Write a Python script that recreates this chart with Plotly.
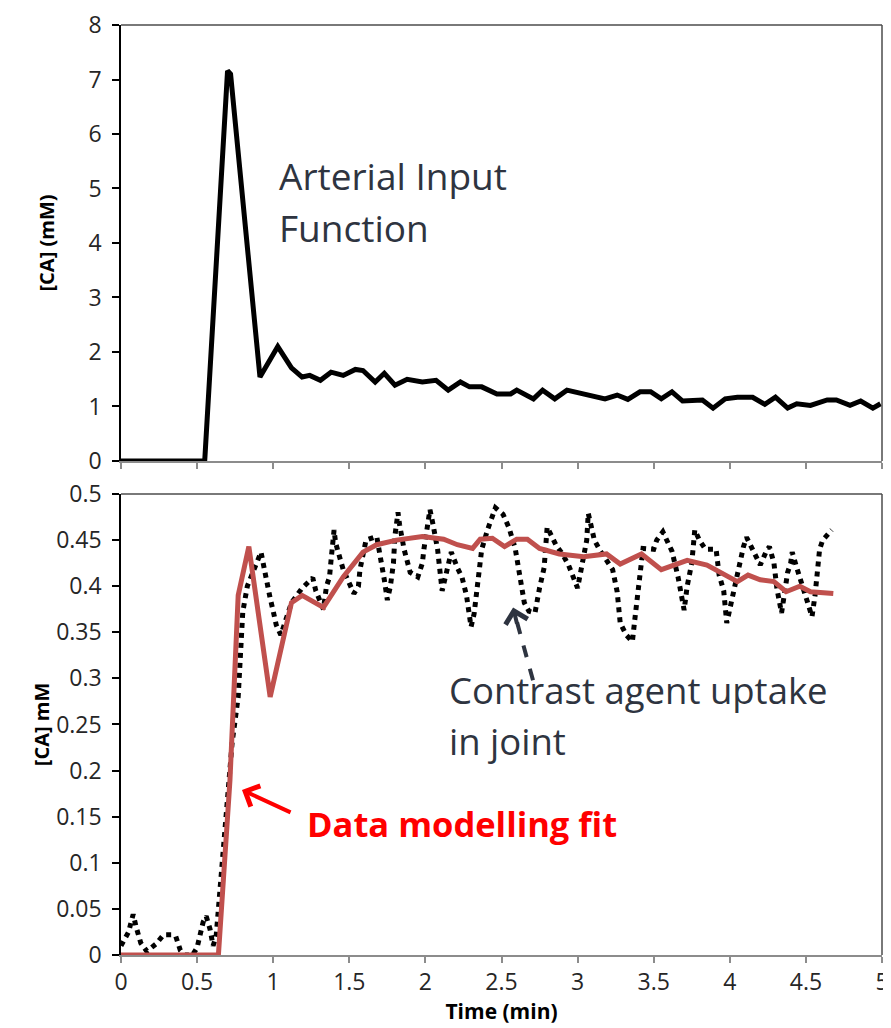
import plotly.graph_objects as go

# ---- data ----
aif_t = [0.00, 0.55, 0.70, 0.72, 0.913, 1.03, 1.12, 1.19, 1.24, 1.31, 1.38, 1.46, 1.54, 1.59,
         1.67, 1.73, 1.80, 1.88, 1.98, 2.07, 2.15, 2.23, 2.29, 2.37, 2.47, 2.56, 2.60, 2.71,
         2.77, 2.85, 2.93, 3.08, 3.18, 3.26, 3.33, 3.41, 3.48, 3.55, 3.62, 3.69, 3.82, 3.89,
         3.97, 4.05, 4.15, 4.23, 4.30, 4.38, 4.44, 4.53, 4.64, 4.70, 4.79, 4.86, 4.94, 4.99]
aif_c = [0.00, 0.00, 7.16, 7.10, 1.54, 2.10, 1.71, 1.54, 1.57, 1.48, 1.63, 1.57, 1.68, 1.66,
         1.45, 1.61, 1.39, 1.50, 1.45, 1.48, 1.30, 1.45, 1.36, 1.36, 1.23, 1.23, 1.30, 1.14,
         1.30, 1.14, 1.30, 1.21, 1.14, 1.21, 1.13, 1.27, 1.27, 1.14, 1.27, 1.10, 1.12, 0.97,
         1.14, 1.17, 1.17, 1.04, 1.17, 0.97, 1.05, 1.02, 1.12, 1.12, 1.02, 1.10, 0.97, 1.05]

joint_t = [0.00, 0.03, 0.05, 0.07, 0.08, 0.10, 0.13, 0.17, 0.20, 0.23, 0.28, 0.33, 0.36, 0.39,
           0.42, 0.47, 0.50, 0.52, 0.54, 0.56, 0.585, 0.605, 0.625, 0.64, 0.66, 0.68, 0.70,
           0.73, 0.77, 0.80, 0.83, 0.92, 0.94, 0.96, 0.98, 1.00, 1.02, 1.05, 1.07, 1.12, 1.19,
           1.26, 1.28, 1.33, 1.35, 1.37, 1.38, 1.40, 1.41, 1.46, 1.53, 1.56, 1.57, 1.61, 1.68,
           1.70, 1.73, 1.75, 1.77, 1.79, 1.80, 1.82, 1.83, 1.86, 1.90, 1.95, 1.98, 1.99, 2.02,
           2.03, 2.05, 2.08, 2.11, 2.13, 2.15, 2.17, 2.21, 2.24, 2.27, 2.29, 2.30, 2.32, 2.34,
           2.37, 2.41, 2.46, 2.51, 2.55, 2.59, 2.62, 2.65, 2.68, 2.72, 2.75, 2.78, 2.80, 2.83,
           2.86, 2.90, 2.94, 3.00, 3.03, 3.06, 3.07, 3.09, 3.11, 3.15, 3.23, 3.26, 3.28, 3.32,
           3.36, 3.38, 3.41, 3.43, 3.50, 3.52, 3.56, 3.59, 3.62, 3.66, 3.70, 3.72, 3.75, 3.77,
           3.80, 3.84, 3.91, 3.93, 3.96, 3.98, 4.00, 4.03, 4.06, 4.09, 4.11, 4.15, 4.20, 4.24,
           4.26, 4.29, 4.31, 4.34, 4.36, 4.38, 4.40, 4.41, 4.44, 4.47, 4.51, 4.54, 4.56, 4.58,
           4.59, 4.61, 4.67]
joint_c = [0.010, 0.020, 0.025, 0.038, 0.044, 0.030, 0.013, 0.004, 0.008, 0.012, 0.022, 0.022,
           0.020, 0.005, 0.000, 0.000, 0.008, 0.020, 0.036, 0.042, 0.028, 0.010, 0.020, 0.050,
           0.090, 0.130, 0.175, 0.230, 0.280, 0.372, 0.400, 0.437, 0.420, 0.400, 0.387, 0.373,
           0.358, 0.347, 0.357, 0.382, 0.398, 0.409, 0.395, 0.375, 0.400, 0.410, 0.428, 0.461,
           0.447, 0.418, 0.392, 0.400, 0.418, 0.450, 0.454, 0.437, 0.407, 0.385, 0.400, 0.425,
           0.455, 0.480, 0.467, 0.440, 0.415, 0.410, 0.425, 0.440, 0.467, 0.483, 0.467, 0.440,
           0.395, 0.410, 0.425, 0.437, 0.420, 0.410, 0.390, 0.372, 0.356, 0.370, 0.395, 0.440,
           0.462, 0.485, 0.478, 0.463, 0.441, 0.412, 0.382, 0.373, 0.371, 0.398, 0.420, 0.464,
           0.455, 0.444, 0.435, 0.423, 0.398, 0.425, 0.450, 0.479, 0.465, 0.450, 0.438, 0.418,
           0.394, 0.360, 0.347, 0.340, 0.370, 0.412, 0.441, 0.440, 0.450, 0.459, 0.447, 0.438,
           0.410, 0.374, 0.400, 0.425, 0.461, 0.450, 0.440, 0.440, 0.412, 0.395, 0.360, 0.375,
           0.400, 0.425, 0.443, 0.453, 0.440, 0.423, 0.438, 0.443, 0.425, 0.397, 0.371, 0.395,
           0.415, 0.425, 0.437, 0.420, 0.405, 0.386, 0.367, 0.390, 0.420, 0.440, 0.450, 0.461]

fit_t = [0.00, 0.64, 0.716, 0.745, 0.77, 0.84, 0.98, 1.12, 1.19, 1.33, 1.46, 1.59, 1.68, 1.81,
         1.98, 2.12, 2.21, 2.31, 2.36, 2.44, 2.52, 2.60, 2.67, 2.75, 2.88, 3.04, 3.19, 3.28,
         3.42, 3.55, 3.72, 3.85, 4.05, 4.12, 4.20, 4.29, 4.37, 4.46, 4.53, 4.68]
fit_c = [0.000, 0.000, 0.190, 0.300, 0.390, 0.443, 0.280, 0.382, 0.390, 0.377, 0.410, 0.437,
         0.445, 0.450, 0.454, 0.451, 0.445, 0.441, 0.451, 0.452, 0.443, 0.451, 0.451, 0.441,
         0.435, 0.432, 0.435, 0.424, 0.435, 0.418, 0.428, 0.423, 0.405, 0.412, 0.407, 0.405,
         0.394, 0.400, 0.394, 0.392]

x_ticks = [0, 0.5, 1, 1.5, 2, 2.5, 3, 3.5, 4, 4.5, 5]
x_labels = ["0", "0.5", "1", "1.5", "2", "2.5", "3", "3.5", "4", "4.5", "5"]
top_y_ticks = [0, 1, 2, 3, 4, 5, 6, 7, 8]
top_y_labels = ["0", "1", "2", "3", "4", "5", "6", "7", "8"]
bot_y_ticks = [0, 0.05, 0.1, 0.15, 0.2, 0.25, 0.3, 0.35, 0.4, 0.45, 0.5]
bot_y_labels = ["0", "0.05", "0.1", "0.15", "0.2", "0.25", "0.3", "0.35", "0.4", "0.45", "0.5"]

FONT = "Open Sans"
TXT = "#2E3440"
TICKC = "#262626"

fig = go.Figure()
fig.add_trace(go.Scatter(x=aif_t, y=aif_c, xaxis="x", yaxis="y", mode="lines",
                         line=dict(color="black", width=5), showlegend=False, hoverinfo="skip"))
fig.add_trace(go.Scatter(x=joint_t, y=joint_c, xaxis="x2", yaxis="y2", mode="lines",
                         line=dict(color="black", width=5, dash="5px,5px"), showlegend=False,
                         hoverinfo="skip"))
fig.add_trace(go.Scatter(x=fit_t, y=fit_c, xaxis="x2", yaxis="y2", mode="lines",
                         line=dict(color="#C0504D", width=5), showlegend=False, hoverinfo="skip"))

xcommon = dict(range=[0, 5], tickvals=x_ticks, ticktext=x_labels, ticks="outside", ticklen=6,
               tickcolor="#8C8C8C", tickwidth=1.5, showline=True, linecolor="#8C8C8C", linewidth=1.5,
               showgrid=False, zeroline=False, automargin=False, ticklabeloverflow="allow",
               tickfont=dict(family=FONT, size=23, color=TICKC))
ycommon = dict(ticks="outside", ticklen=7, tickcolor="black", tickwidth=1.5, showline=True,
               linecolor="black", linewidth=1.5, showgrid=False, zeroline=False, automargin=False,
               ticklabeloverflow="allow",
               tickfont=dict(family=FONT, size=23, color=TICKC), ticklabelstandoff=6)

# the page body adds an 8px offset, so the figure is sized to fit the window
fig.update_layout(
    width=883, height=1020,
    margin=dict(l=113, r=9, t=17, b=73),
    paper_bgcolor="white", plot_bgcolor="white",
    xaxis=dict(domain=[0, 1], anchor="y", showticklabels=False, **xcommon),
    yaxis=dict(domain=[0.5312, 1], anchor="x", range=[0, 8], tickvals=top_y_ticks,
               ticktext=top_y_labels,
               title=dict(text="<b>[CA] (mM)</b>", font=dict(family=FONT, size=20, color="black"),
                          standoff=28), **ycommon),
    xaxis2=dict(domain=[0, 1], anchor="y2",
                title=dict(text="<b>Time (min)</b>", font=dict(family=FONT, size=21, color="black"),
                           standoff=0), **xcommon),
    yaxis2=dict(domain=[0, 0.4957], anchor="x2", range=[0, 0.5], tickvals=bot_y_ticks,
                ticktext=bot_y_labels,
                title=dict(text="<b>[CA] mM</b>", font=dict(family=FONT, size=20, color="black"),
                           standoff=1), **ycommon),
)

# plot-area borders (top and right)
for xr, yr in (("x domain", "y domain"), ("x2 domain", "y2 domain")):
    fig.add_shape(type="line", xref=xr, yref=yr, x0=0, x1=1, y0=1, y1=1,
                  line=dict(color="#4D4D4D", width=1.5))
    fig.add_shape(type="line", xref=xr, yref=yr, x0=1, x1=1, y0=0, y1=1,
                  line=dict(color="#4D4D4D", width=1.5))

# text labels
fig.add_annotation(x=1.025, y=5.23, xref="x", yref="y", text="Arterial Input", showarrow=False,
                   xanchor="left", yanchor="middle", font=dict(family=FONT, size=37, color=TXT))
fig.add_annotation(x=1.025, y=4.28, xref="x", yref="y", text="Function", showarrow=False,
                   xanchor="left", yanchor="middle", font=dict(family=FONT, size=37, color=TXT))
fig.add_annotation(x=2.142, y=0.2874, xref="x2", yref="y2", text="Contrast agent uptake",
                   showarrow=False, xanchor="left", yanchor="middle",
                   font=dict(family=FONT, size=36.5, color=TXT))
fig.add_annotation(x=2.142, y=0.232, xref="x2", yref="y2", text="in joint",
                   showarrow=False, xanchor="left", yanchor="middle",
                   font=dict(family=FONT, size=36.5, color=TXT))
fig.add_annotation(x=1.209, y=0.143, xref="x2", yref="y2", text="<b>Data modelling fit</b>",
                   showarrow=False, xanchor="left", yanchor="middle",
                   font=dict(family=FONT, size=34.5, color="#FF0000"))

# red arrow
fig.add_annotation(x=0.795, y=0.179, xref="x2", yref="y2", ax=1.124, ay=0.154,
                   axref="x2", ayref="y2", text="", showarrow=True, arrowhead=4,
                   arrowsize=1.1, arrowwidth=4, arrowcolor="#FF0000")

# dashed arrow
fig.add_shape(type="line", xref="x2", yref="y2", x0=2.707, y0=0.298, x1=2.602, y1=0.361,
              line=dict(color=TXT, width=4, dash="dash"))
fig.add_annotation(x=2.576, y=0.377, xref="x2", yref="y2", ax=2.604, ay=0.358,
                   axref="x2", ayref="y2", text="", showarrow=True, arrowhead=4,
                   arrowsize=1.1, arrowwidth=4, arrowcolor=TXT)

fig.write_html("out.html")
